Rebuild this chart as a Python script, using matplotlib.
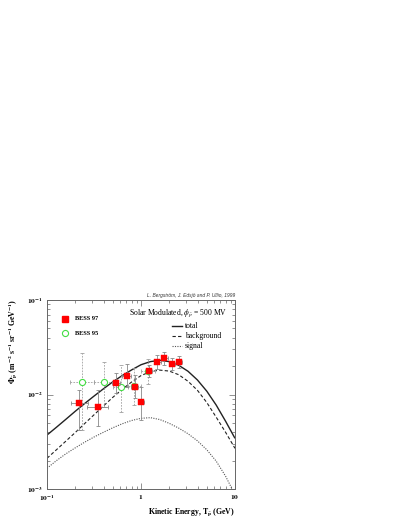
import matplotlib
matplotlib.use("Agg")
import matplotlib.pyplot as plt
import numpy as np
from matplotlib.ticker import FixedLocator, FixedFormatter, NullFormatter

plt.rcParams['font.family'] = ['Liberation Serif', 'DejaVu Serif']
plt.rcParams['mathtext.fontset'] = 'stix'

# ---- model curves ----
curve_T = [0.1, 0.1259, 0.1585, 0.1995, 0.2512, 0.3162, 0.3981, 0.5012, 0.631, 0.7943,
           1.0, 1.259, 1.585, 1.995, 2.512, 3.162, 3.981, 5.012, 6.31, 7.943, 10.0]
total = [0.003724, 0.004498, 0.005458, 0.006637, 0.008017, 0.009616, 0.011482, 0.013614,
         0.015849, 0.018197, 0.020654, 0.022284, 0.023014, 0.022284, 0.020417, 0.017620,
         0.014256, 0.010839, 0.007727, 0.005212, 0.003436]
background = [0.002113, 0.002600, 0.003206, 0.003954, 0.004920, 0.006095, 0.007551, 0.009333,
              0.011350, 0.013552, 0.015849, 0.017458, 0.018113, 0.017701, 0.016218, 0.013804,
              0.011092, 0.008222, 0.005754, 0.003981, 0.002692]
signal = [0.001656, 0.001995, 0.002355, 0.002723, 0.003126, 0.003548, 0.003981, 0.004446,
          0.004898, 0.005309, 0.005598, 0.005689, 0.005433, 0.004955, 0.004416, 0.003846,
          0.003236, 0.002600, 0.001972, 0.001365, 0.000871]

# ---- BESS 97 ----
b97_T = [0.221, 0.351, 0.542, 0.710, 0.863, 1.007, 1.216, 1.48, 1.77, 2.15, 2.54]
b97_T_lo = [0.180, 0.264, 0.490, 0.630, 0.790, 0.930, 1.120, 1.370, 1.630, 2.000, 2.350]
b97_T_hi = [0.271, 0.449, 0.600, 0.790, 0.930, 1.080, 1.320, 1.620, 1.930, 2.320, 2.750]
b97_flux = [0.00818, 0.00743, 0.01334, 0.0158, 0.0119, 0.0084, 0.01786, 0.0221, 0.0245, 0.0210, 0.0221]
b97_flux_lo = [0.0042, 0.0046, 0.0103, 0.0121, 0.00912, 0.0054, 0.0152, 0.0185, 0.0205, 0.0182, 0.0190]
b97_flux_hi = [0.0112, 0.0112, 0.0170, 0.0210, 0.0161, 0.0121, 0.0205, 0.0262, 0.0284, 0.0246, 0.0257]

# ---- BESS 95 ----
b95_T = [0.238, 0.404, 0.608, 0.84, 1.20]
b95_T_lo = [0.176, 0.320, 0.507, 0.733, 1.00]
b95_T_hi = [0.320, 0.500, 0.733, 1.00, 1.40]
b95_flux = [0.01355, 0.01355, 0.0121, 0.0124, 0.0178]
b95_flux_lo = [0.0042, 0.0074, 0.00657, 0.0078, 0.0128]
b95_flux_hi = [0.0273, 0.0220, 0.0205, 0.0190, 0.0235]

W, H = 407, 527
fig = plt.figure(figsize=(W / 100, H / 100), dpi=100)
ax = fig.add_axes([47 / W, 1 - 489 / H, 188 / W, 189 / H])
ax.set_xscale('log')
ax.set_yscale('log')
ax.set_xlim(0.1, 10)
ax.set_ylim(1e-3, 1e-1)

# curves
ax.plot(curve_T, total, color='#222222', lw=1.0, solid_capstyle='butt')
ax.plot(curve_T, background, color='#222222', lw=0.8, linestyle=(0, (3, 2)))
ax.plot(curve_T, signal, color='#555555', lw=0.8, linestyle=(0, (1, 1.2)))

# BESS 95 (dashed error bars)
T = np.array(b95_T); F = np.array(b95_flux)
xerr = [T - np.array(b95_T_lo), np.array(b95_T_hi) - T]
yerr = [F - np.array(b95_flux_lo), np.array(b95_flux_hi) - F]
eb = ax.errorbar(T, F, xerr=xerr, yerr=yerr, fmt='none', ecolor='#a0a0a0',
                 elinewidth=0.6, capsize=1.2, capthick=0.6, zorder=3)
for lc in eb[2]:
    lc.set_linestyle((0, (2, 1.5)))
ax.plot(T, F, 'o', ms=4.4, mfc='white', mec='#44dd44', mew=0.8, zorder=4, linestyle='none')

# BESS 97 (solid error bars)
T = np.array(b97_T); F = np.array(b97_flux)
xerr = [T - np.array(b97_T_lo), np.array(b97_T_hi) - T]
yerr = [F - np.array(b97_flux_lo), np.array(b97_flux_hi) - F]
ax.errorbar(T, F, xerr=xerr, yerr=yerr, fmt='none', ecolor='#888888',
            elinewidth=0.6, capsize=1.2, capthick=0.6, zorder=5)
ax.plot(T, F, 's', ms=4.0, mfc='#ff0000', mec='#ff0000', mew=0.3, zorder=6, linestyle='none')

# axes styling
for s in ax.spines.values():
    s.set_color('#666666')
    s.set_linewidth(0.7)
ax.tick_params(which='both', direction='in', top=True, right=True, color='#666666',
               width=0.5)
ax.tick_params(which='major', length=4.5, pad=3)
ax.tick_params(which='minor', length=2.2)
ax.xaxis.set_major_locator(FixedLocator([0.1, 1, 10]))
ax.xaxis.set_major_formatter(FixedFormatter([r'$\mathbf{10^{-1}}$', r'$\mathbf{1}$', r'$\mathbf{10}$']))
ax.yaxis.set_major_locator(FixedLocator([1e-3, 1e-2, 1e-1]))
ax.yaxis.set_major_formatter(FixedFormatter([r'$\mathbf{10^{-3}}$', r'$\mathbf{10^{-2}}$', r'$\mathbf{10^{-1}}$']))
minors = [m * d for d in (0.1, 1) for m in range(2, 10)]
ax.xaxis.set_minor_locator(FixedLocator(minors))
yminors = [m * d for d in (1e-3, 1e-2) for m in range(2, 10)]
ax.yaxis.set_minor_locator(FixedLocator(yminors))
ax.xaxis.set_minor_formatter(NullFormatter())
ax.yaxis.set_minor_formatter(NullFormatter())
for lab in ax.get_xticklabels() + ax.get_yticklabels():
    lab.set_fontsize(5.3)

# texts inside
ax.text(1.0, 1.025, 'L. Bergström, J. Edsjö and P. Ullio, 1999', transform=ax.transAxes,
        ha='right', va='center', fontsize=3.5, style='italic', family='Liberation Sans',
        color='#333333')
ax.text(0.436, 0.931, r'Solar Modulated, $\phi_{\bar{p}}$ = 500 MV', transform=ax.transAxes,
        ha='left', va='center', fontsize=5.5)
leg_y = [0.860, 0.810, 0.759]
leg_lab = ['total', 'background', 'signal']
leg_sty = [dict(lw=1.0, ls='-', color='#222222'), dict(lw=0.8, ls=(0, (3, 2)), color='#222222'),
           dict(lw=0.8, ls=(0, (1, 1.2)), color='#555555')]
for yy, lab, st in zip(leg_y, leg_lab, leg_sty):
    ax.plot([0.664, 0.717], [yy, yy], transform=ax.transAxes, **st)
    ax.text(0.734, yy, lab, transform=ax.transAxes, ha='left', va='center', fontsize=5.5)

ax.plot([0.096], [0.900], 's', transform=ax.transAxes, ms=4.0, mfc='#ff0000', mec='#ff0000')
ax.text(0.149, 0.900, 'BESS 97', transform=ax.transAxes, ha='left', va='center',
        fontsize=4.6, fontweight='bold')
ax.plot([0.096], [0.823], 'o', transform=ax.transAxes, ms=4.4, mfc='white', mec='#44dd44', mew=0.8)
ax.text(0.149, 0.823, 'BESS 95', transform=ax.transAxes, ha='left', va='center',
        fontsize=4.6, fontweight='bold')

# axis labels
fig.text(235 / W, 1 - 512 / H, r'Kinetic Energy, T$_{\mathbf{\bar{p}}}$ (GeV)', ha='right',
         va='center', fontsize=5.6, fontweight='bold')
fig.text(13 / W, 1 - 299 / H,
         r'$\mathbf{\Phi_{\bar{p}}}$ (m$^{\mathbf{-2}}$ s$^{\mathbf{-1}}$ sr$^{\mathbf{-1}}$ GeV$^{\mathbf{-1}}$)',
         rotation=90, ha='center', va='top', fontsize=5.6, fontweight='bold')

fig.savefig('out.png', dpi=100)
